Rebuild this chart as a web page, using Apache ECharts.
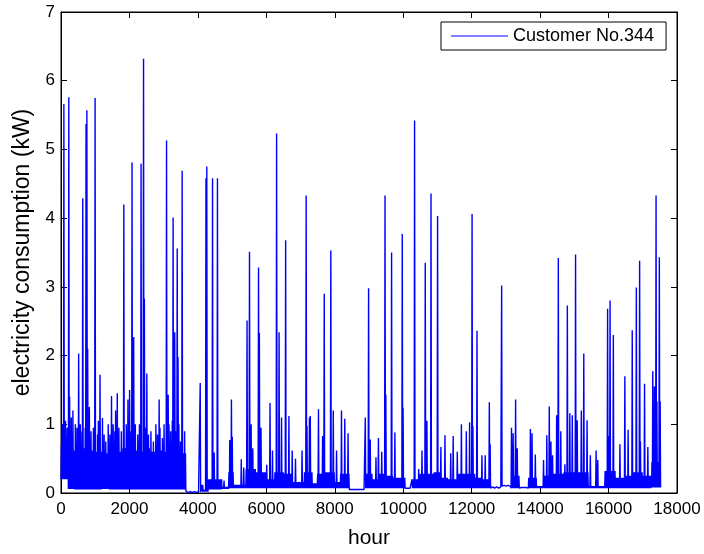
<!DOCTYPE html>
<html>
<head>
<meta charset="utf-8">
<script src="https://cdn.jsdelivr.net/npm/echarts@6/dist/echarts.min.js"></script>
<style>
  html, body { margin: 0; padding: 0; background: #fff; }
  #chart { width: 704px; height: 554px; }
</style>
</head>
<body>
<div id="chart"></div>
<script>
// Hourly load of customer No.344 (kW), two years of readings.
// Periods: start hour, night-time base level and daily peak level.
const segStartHour = [0, 200, 400, 600, 800, 1000, 1200, 1400, 1600, 1800, 2000, 2200, 2400, 2600, 2800, 3000, 3200, 3400,
  3650, 4050, 4150, 4300, 4700, 4900, 5050, 5400, 5700, 6000, 6250, 6500, 6750, 7100, 7350, 7500, 7700, 8000, 8150,
  8420, 8870, 9100, 9300, 9500, 9700, 10060, 10250, 10500, 10900, 11100, 11300, 11600, 12100, 12300, 12500, 12870,
  13150, 13400, 13650, 13900, 14100, 14400, 14700, 15000, 15400, 15900, 16200, 16500, 16700, 17000, 17250];
const segBaseKW = [0.20, 0.06, 0.05, 0.05, 0.05, 0.05, 0.06, 0.05, 0.05, 0.05, 0.05, 0.05, 0.05, 0.05, 0.05, 0.05, 0.05, 0.05,
  0.01, 0.02, 0.02, 0.05, 0.06, 0.07, 0.07, 0.07, 0.07, 0.07, 0.07, 0.07, 0.07, 0.07, 0.07, 0.07, 0.07, 0.07, 0.07,
  0.05, 0.07, 0.07, 0.07, 0.07, 0.07, 0.07, 0.07, 0.07, 0.07, 0.07, 0.07, 0.07, 0.07, 0.07, 0.07, 0.10,
  0.07, 0.08, 0.07, 0.07, 0.07, 0.07, 0.07, 0.07, 0.07, 0.07, 0.07, 0.07, 0.07, 0.07, 0.08];
const segTopKW = [0.70, 0.62, 0.60, 0.65, 0.62, 0.60, 0.58, 0.62, 0.60, 0.65, 0.62, 0.60, 0.65, 0.60, 0.62, 0.60, 0.62, 0.58,
  0.02, 0.12, 0.05, 0.20, 0.09, 0.30, 0.12, 0.35, 0.30, 0.20, 0.30, 0.28, 0.16, 0.30, 0.14, 0.28, 0.30, 0.16, 0.28,
  0.05, 0.28, 0.20, 0.28, 0.25, 0.22, 0.07, 0.20, 0.28, 0.30, 0.22, 0.20, 0.28, 0.22, 0.20, 0.09, 0.11,
  0.25, 0.08, 0.22, 0.10, 0.25, 0.28, 0.30, 0.30, 0.10, 0.32, 0.22, 0.25, 0.30, 0.25, 0.45];
const lastHour = 17520;

// Individual high-load hours (hour, kW).
const spikeHour = [40, 90, 130, 180, 236, 260, 300, 350, 420, 470, 519, 560, 610, 645, 700, 733, 753, 780, 820, 880, 950,
  1006, 1060, 1100, 1142, 1200, 1250, 1310, 1380, 1430, 1473, 1520, 1560, 1600, 1640, 1700, 1760, 1834, 1900, 1961,
  2010, 2050, 2078, 2127, 2180, 2250, 2300, 2351, 2400, 2429, 2480, 2510, 2560, 2620, 2700, 2760, 2820, 2858, 2900,
  2960, 3020, 3073, 3122, 3150, 3200, 3250, 3277, 3316, 3350, 3394, 3410, 3450, 3500, 3550, 3600,
  4076, 4242, 4271, 4418, 4466, 4583, 4769, 4933, 4973, 5002, 5266, 5342, 5440, 5518, 5560, 5605, 5782, 5800, 5850,
  6006, 6113, 6190, 6289, 6377, 6440, 6552, 6670, 6757, 6855, 7038, 7155, 7195, 7260, 7292, 7517, 7652, 7701, 7886,
  7950, 8053, 8199, 8296, 8383, 8891, 8979, 9047, 9202, 9272, 9368, 9476, 9500, 9652, 9757, 9982, 10000, 10333,
  10441, 10558, 10655, 10700, 10822, 10997, 11010, 11094, 11211, 11386, 11453, 11582, 11708, 11833, 11950, 12000,
  12040, 12166, 12292, 12400, 12506, 12535, 12877, 13160, 13207, 13295, 13336, 13720, 13760, 13851, 14096, 14184,
  14260, 14310, 14360, 14494, 14524, 14602, 14728, 14787, 14874, 14943, 15041, 15090, 15207, 15284, 15362, 15459,
  15626, 15684, 15967, 15997, 16035, 16132, 16336, 16483, 16582, 16699, 16816, 16904, 16942, 17050, 17155, 17302,
  17330, 17380, 17410, 17477, 17497, 17510];
const spikeKW = [1.00, 5.66, 1.05, 0.95, 5.76, 1.40, 1.10, 1.20, 1.00, 0.95, 2.03, 1.00, 0.90, 4.29, 0.95, 5.37, 5.57, 2.10, 1.25, 0.90, 0.95,
  5.75, 0.85, 1.05, 1.72, 1.09, 0.85, 0.75, 1.00, 0.85, 1.41, 1.00, 0.90, 1.20, 1.45, 0.95, 0.90, 4.20, 1.00, 1.36,
  1.50, 0.90, 4.81, 2.27, 1.00, 0.85, 1.00, 4.79, 6.32, 2.83, 0.95, 1.74, 0.85, 0.90, 0.75, 1.00, 0.85, 1.36, 0.95,
  0.80, 1.00, 5.13, 1.43, 1.00, 0.90, 1.05, 4.01, 2.34, 0.90, 3.56, 1.98, 1.00, 0.75, 4.69, 0.90,
  1.60, 4.58, 4.75, 4.58, 0.59, 4.58, 0.18, 0.77, 1.36, 0.82, 0.49, 0.37, 2.51, 3.51, 1.00, 0.65, 3.28, 2.33, 0.95,
  0.41, 1.31, 0.62, 5.23, 2.34, 1.10, 3.68, 1.12, 0.62, 0.50, 0.62, 4.33, 0.98, 1.10, 1.12, 1.22, 0.83, 2.90, 3.53,
  1.20, 0.62, 1.20, 1.08, 0.87, 1.10, 2.98, 0.78, 0.52, 0.80, 0.60, 4.33, 1.43, 3.50, 0.88, 3.77, 1.24, 5.42,
  0.35, 0.62, 3.35, 1.05, 4.36, 4.03, 1.91, 0.67, 0.84, 0.58, 0.83, 0.60, 1.00, 0.90, 1.03, 4.06,
  0.97, 2.36, 0.55, 0.55, 1.32, 0.71, 3.02, 0.95, 0.87, 1.36, 0.65, 0.93, 0.87, 0.56, 0.48, 0.84,
  1.26, 0.75, 0.55, 1.13, 3.42, 0.90, 0.42, 2.73, 1.16, 1.13, 3.47, 1.06, 1.20, 2.03, 1.06, 0.55,
  0.62, 0.48, 2.68, 0.83, 2.80, 2.30, 0.71, 1.70, 0.92, 2.37, 2.99, 3.38, 0.75, 1.59, 0.67, 1.77,
  1.55, 4.33, 1.33, 3.43, 1.33, 0.93];

// Readings are laid out every 12 hours: night reading (even slot), then day reading (odd slot).
const stepHours = 12;
function buildSeries() {
  const pts = [];
  let seg = 0;
  for (let h = 0, i = 0; h <= lastHour; h += stepHours, i++) {
    while (seg + 1 < segStartHour.length && h >= segStartHour[seg + 1]) seg++;
    const v = (i % 2 === 1) ? segTopKW[seg] : segBaseKW[seg];
    pts.push([h, v]);
  }
  // a high-load hour lands on the nearest day slot, so night readings stay in place
  for (let k = 0; k < spikeHour.length; k++) {
    let idx = Math.round((spikeHour[k] / stepHours - 1) / 2) * 2 + 1;
    if (idx >= pts.length) idx -= 2;
    if (idx >= 0 && spikeKW[k] > pts[idx][1]) pts[idx][1] = spikeKW[k];
  }
  return pts;
}

const chart = echarts.init(document.getElementById('chart'), null, { renderer: 'canvas' });
const fontFamily = 'Liberation Sans, Arial, Helvetica, sans-serif';
const black = '#000';
const plainNumber = v => String(v);

chart.setOption({
  animation: false,
  backgroundColor: '#fff',
  grid: { left: 61, right: 27, top: 12, bottom: 57, show: true, borderColor: black, borderWidth: 1, backgroundColor: '#fff' },
  legend: {
    data: [{ name: 'Customer No.344', icon: 'rect' }],
    left: 441, top: 22,
    padding: [5, 12, 5, 10],
    itemWidth: 57, itemHeight: 1, itemGap: 6,
    borderColor: black, borderWidth: 1, backgroundColor: '#fff',
    textStyle: { fontFamily, fontSize: 18, color: black }
  },
  xAxis: [{
    type: 'value', min: 0, max: 18000, interval: 2000,
    name: 'hour', nameLocation: 'middle', nameGap: 35,
    nameTextStyle: { fontFamily, fontSize: 21, color: black },
    axisLine: { show: true, onZero: false, lineStyle: { color: black, width: 1 } },
    axisTick: { show: true, inside: true, length: 6, lineStyle: { color: black } },
    axisLabel: { fontFamily, fontSize: 17, color: black, margin: 8, formatter: plainNumber },
    splitLine: { show: false }
  }, {
    type: 'value', min: 0, max: 18000, interval: 2000, position: 'top',
    axisLine: { show: true, onZero: false, lineStyle: { color: black, width: 1 } },
    axisTick: { show: true, inside: true, length: 6, lineStyle: { color: black } },
    axisLabel: { show: false }, splitLine: { show: false }
  }],
  yAxis: [{
    type: 'value', min: 0, max: 7, interval: 1,
    name: 'electricity consumption (kW)', nameLocation: 'middle', nameGap: 25,
    nameTextStyle: { fontFamily, fontSize: 23, color: black },
    axisLine: { show: true, onZero: false, lineStyle: { color: black, width: 1 } },
    axisTick: { show: true, inside: true, length: 6, lineStyle: { color: black } },
    axisLabel: { fontFamily, fontSize: 17, color: black, margin: 6, formatter: plainNumber },
    splitLine: { show: false }
  }, {
    type: 'value', min: 0, max: 7, interval: 1, position: 'right',
    axisLine: { show: true, onZero: false, lineStyle: { color: black, width: 1 } },
    axisTick: { show: true, inside: true, length: 6, lineStyle: { color: black } },
    axisLabel: { show: false }, splitLine: { show: false }
  }],
  series: [{
    name: 'Customer No.344',
    type: 'line',
    data: buildSeries(),
    symbol: 'none',
    sampling: null,
    lineStyle: { color: '#0000ff', width: 1.4 },
    itemStyle: { color: '#0000ff' },
    z: 3
  }]
});
</script>
</body>
</html>
